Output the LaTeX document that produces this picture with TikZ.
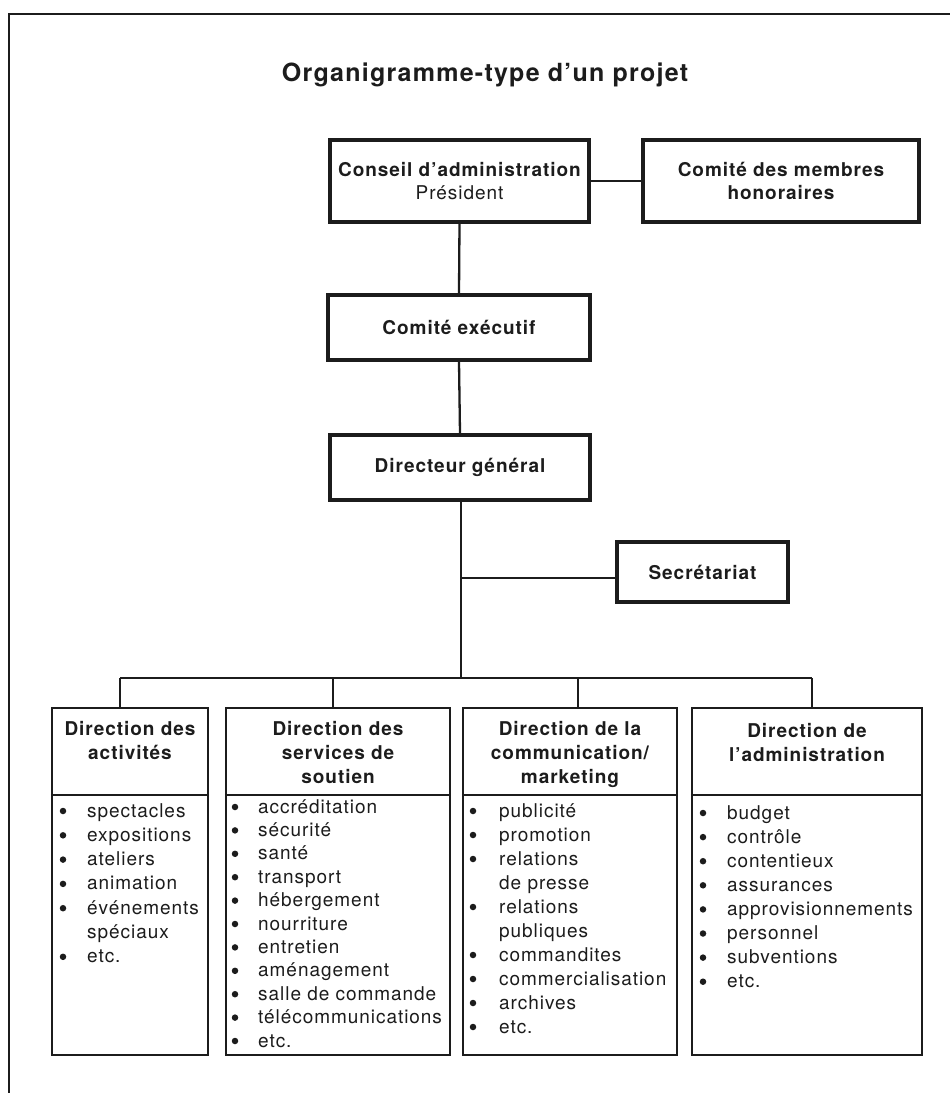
\documentclass[tikz,border=0pt]{standalone}
\usepackage{fontspec}
\setmainfont{TeX Gyre Heros}[LetterSpace=5]
\definecolor{ink}{RGB}{28,28,28}
\begin{document}
\begin{tikzpicture}[x=1pt,y=-1pt,
  every node/.style={inner sep=0pt, text=ink},
  bx/.style={draw=ink, line width=3.2pt, fill=white, align=center,
    font=\fontsize{19}{23}\selectfont\bfseries},
  colbox/.style={draw=ink, line width=2.5pt},
  link/.style={draw=ink, line width=2.3pt},
  hdr/.style={font=\fontsize{19}{24}\selectfont\bfseries, align=center, anchor=north},
  item/.style={font=\fontsize{19}{23}\selectfont, anchor=base west},
  bul/.style={circle, fill=ink, minimum size=6.5pt},
]
\useasboundingbox (0,0) rectangle (950,1093);
\fill[white] (0,0) rectangle (950,1093);
% frame
\draw[draw=ink, line width=2.8pt] (950,14) -- (9,14) -- (9,1093);

% title
\node[font=\fontsize{25}{30}\selectfont\bfseries, anchor=base] (title) at (485,81) {Organigramme-type d’un projet};

% upper boxes
\node[bx, minimum width=259pt, minimum height=82pt] (conseil) at (459.5,181)
  {Conseil d’administration\\{\mdseries Président}};
\node[bx, minimum width=276pt, minimum height=82pt] (membres) at (781,181)
  {Comité des membres\\honoraires};
\node[bx, minimum width=262pt, minimum height=65pt] (comex) at (459,327.5) {Comité exécutif};
\node[bx, minimum width=260pt, minimum height=65pt] (dg) at (460,467.5) {Directeur général};
\node[bx, minimum width=171pt, minimum height=60pt] (sec) at (702.5,572) {Secrétariat};

% column boxes
\node[colbox, minimum width=156pt, minimum height=347pt] (c1) at (130,881.5) {};
\node[colbox, minimum width=224pt, minimum height=347pt] (c2) at (338,881.5) {};
\node[colbox, minimum width=214pt, minimum height=347pt] (c3) at (570,881.5) {};
\node[colbox, minimum width=230pt, minimum height=347pt] (c4) at (807,881.5) {};
\coordinate (dv) at (0,795);
\foreach \k in {1,...,4}{
  \draw[colbox] (c\k.west |- dv) -- (c\k.east |- dv);
}

% connectors
\draw[link] (conseil.east) -- (membres.west);
\draw[link] (conseil.south) -- (comex.north);
\draw[link] (comex.south) -- (dg.north);
\coordinate (bt) at (461,678);
\coordinate (st) at (461,578);
\draw[link] (dg.south -| bt) -- (bt);
\draw[link] (st) -- (st -| sec.west);
\coordinate (b1) at (120,678);
\coordinate (b2) at (333,678);
\coordinate (b3) at (578,678);
\coordinate (b4) at (812,678);
\draw[link] (b1) -- (b4);
\foreach \k in {1,...,4}{
  \draw[link] (b\k) -- (b\k |- c\k.north);
}

% headers
\node[hdr] (h1) at (130,721) {Direction des\\activités};
\node[hdr] (h2) at (338,721) {Direction des\\services de\\soutien};
\node[hdr] (h3) at (570,721) {Direction de la\\communication/\\marketing};
\node[hdr] (h4) at (807,723) {Direction de\\l’administration};

% items
\foreach \b/\t [count=\i] in {1/spectacles,1/expositions,1/ateliers,1/animation,1/événements,0/spéciaux,1/etc.}{
  \node[item] (a\i) at (87,{817+24.3*(\i-1)}) {\t};
  \ifnum\b=1 \node[bul] (ab\i) at (63,{811+24.3*(\i-1)}) {};\fi
}
\foreach \t [count=\i] in {accréditation,sécurité,santé,transport,hébergement,nourriture,entretien,aménagement,salle de commande,télécommunications,etc.}{
  \node[item] (s\i) at (258,{813+23.4*(\i-1)}) {\t};
  \node[bul] (sb\i) at (235,{807+23.4*(\i-1)}) {};
}
\foreach \b/\t [count=\i] in {1/publicité,1/promotion,1/relations,0/de presse,1/relations,0/publiques,1/commandites,1/commercialisation,1/archives,1/etc.}{
  \node[item] (m\i) at (499,{817+24*(\i-1)}) {\t};
  \ifnum\b=1 \node[bul] (mb\i) at (473,{811+24*(\i-1)}) {};\fi
}
\foreach \t [count=\i] in {budget,contrôle,contentieux,assurances,approvisionnements,personnel,subventions,etc.}{
  \node[item] (d\i) at (727,{819+24.1*(\i-1)}) {\t};
  \node[bul] (db\i) at (703,{813+24.1*(\i-1)}) {};
}
\end{tikzpicture}
\end{document}
